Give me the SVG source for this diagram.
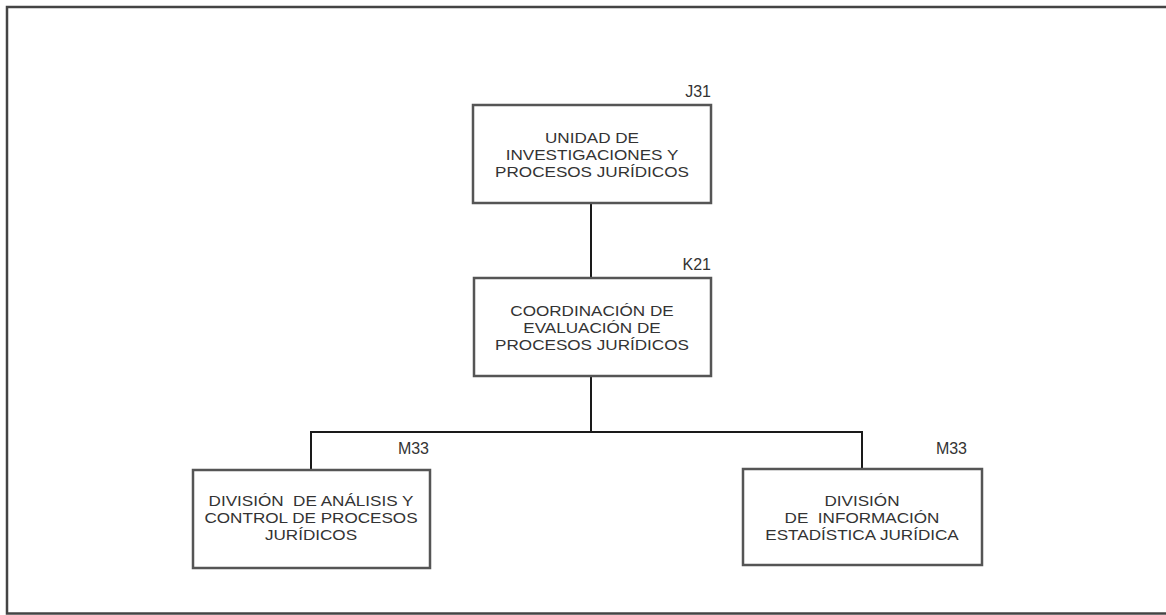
<svg xmlns="http://www.w3.org/2000/svg" width="1166" height="615" viewBox="0 0 1166 615">
<style>
.frame{fill:none;stroke:#444;stroke-width:2.5}
.box{fill:#fff;stroke:#555;stroke-width:2.5}
.conn{fill:none;stroke:#1a1a1a;stroke-width:2}
.t{font-family:"Liberation Sans",Arial,sans-serif;font-size:14.5px;fill:#333;text-anchor:middle}
.code{font-family:"Liberation Sans",Arial,sans-serif;font-size:16px;fill:#333;text-anchor:end}
</style>
<rect width="1166" height="615" fill="#fff"/>
<rect class="frame" x="7" y="7" width="1170" height="606.5"/>
<g id="connectors">
<line class="conn" x1="591" y1="203" x2="591" y2="278"/>
<line class="conn" x1="591" y1="376" x2="591" y2="432"/>
<polyline class="conn" points="311,470 311,432 862,432 862,469"/>
</g>
<g id="J31">
<rect class="box" x="473" y="105" width="238" height="98"/>
<text class="code" x="711" y="97">J31</text>
<g class="t" transform="translate(592,0) scale(1.18,1)">
<text x="0" y="143">UNIDAD DE</text>
<text x="0" y="160">INVESTIGACIONES Y</text>
<text x="0" y="177">PROCESOS JURÍDICOS</text>
</g>
</g>
<g id="K21">
<rect class="box" x="474" y="278" width="237" height="98"/>
<text class="code" x="711" y="270">K21</text>
<g class="t" transform="translate(592,0) scale(1.18,1)">
<text x="0" y="316">COORDINACIÓN DE</text>
<text x="0" y="333">EVALUACIÓN DE</text>
<text x="0" y="350">PROCESOS JURÍDICOS</text>
</g>
</g>
<g id="M33a">
<rect class="box" x="193" y="470" width="237" height="98"/>
<text class="code" x="429" y="454">M33</text>
<g class="t" transform="translate(311,0) scale(1.18,1)">
<text x="0" y="506" xml:space="preserve">DIVISIÓN  DE ANÁLISIS Y</text>
<text x="0" y="523">CONTROL DE PROCESOS</text>
<text x="0" y="540">JURÍDICOS</text>
</g>
</g>
<g id="M33b">
<rect class="box" x="743" y="469" width="239" height="96"/>
<text class="code" x="967" y="454">M33</text>
<g class="t" transform="translate(862,0) scale(1.18,1)">
<text x="0" y="506">DIVISIÓN</text>
<text x="0" y="523" xml:space="preserve">DE  INFORMACIÓN</text>
<text x="0" y="540">ESTADÍSTICA JURÍDICA</text>
</g>
</g>
</svg>
